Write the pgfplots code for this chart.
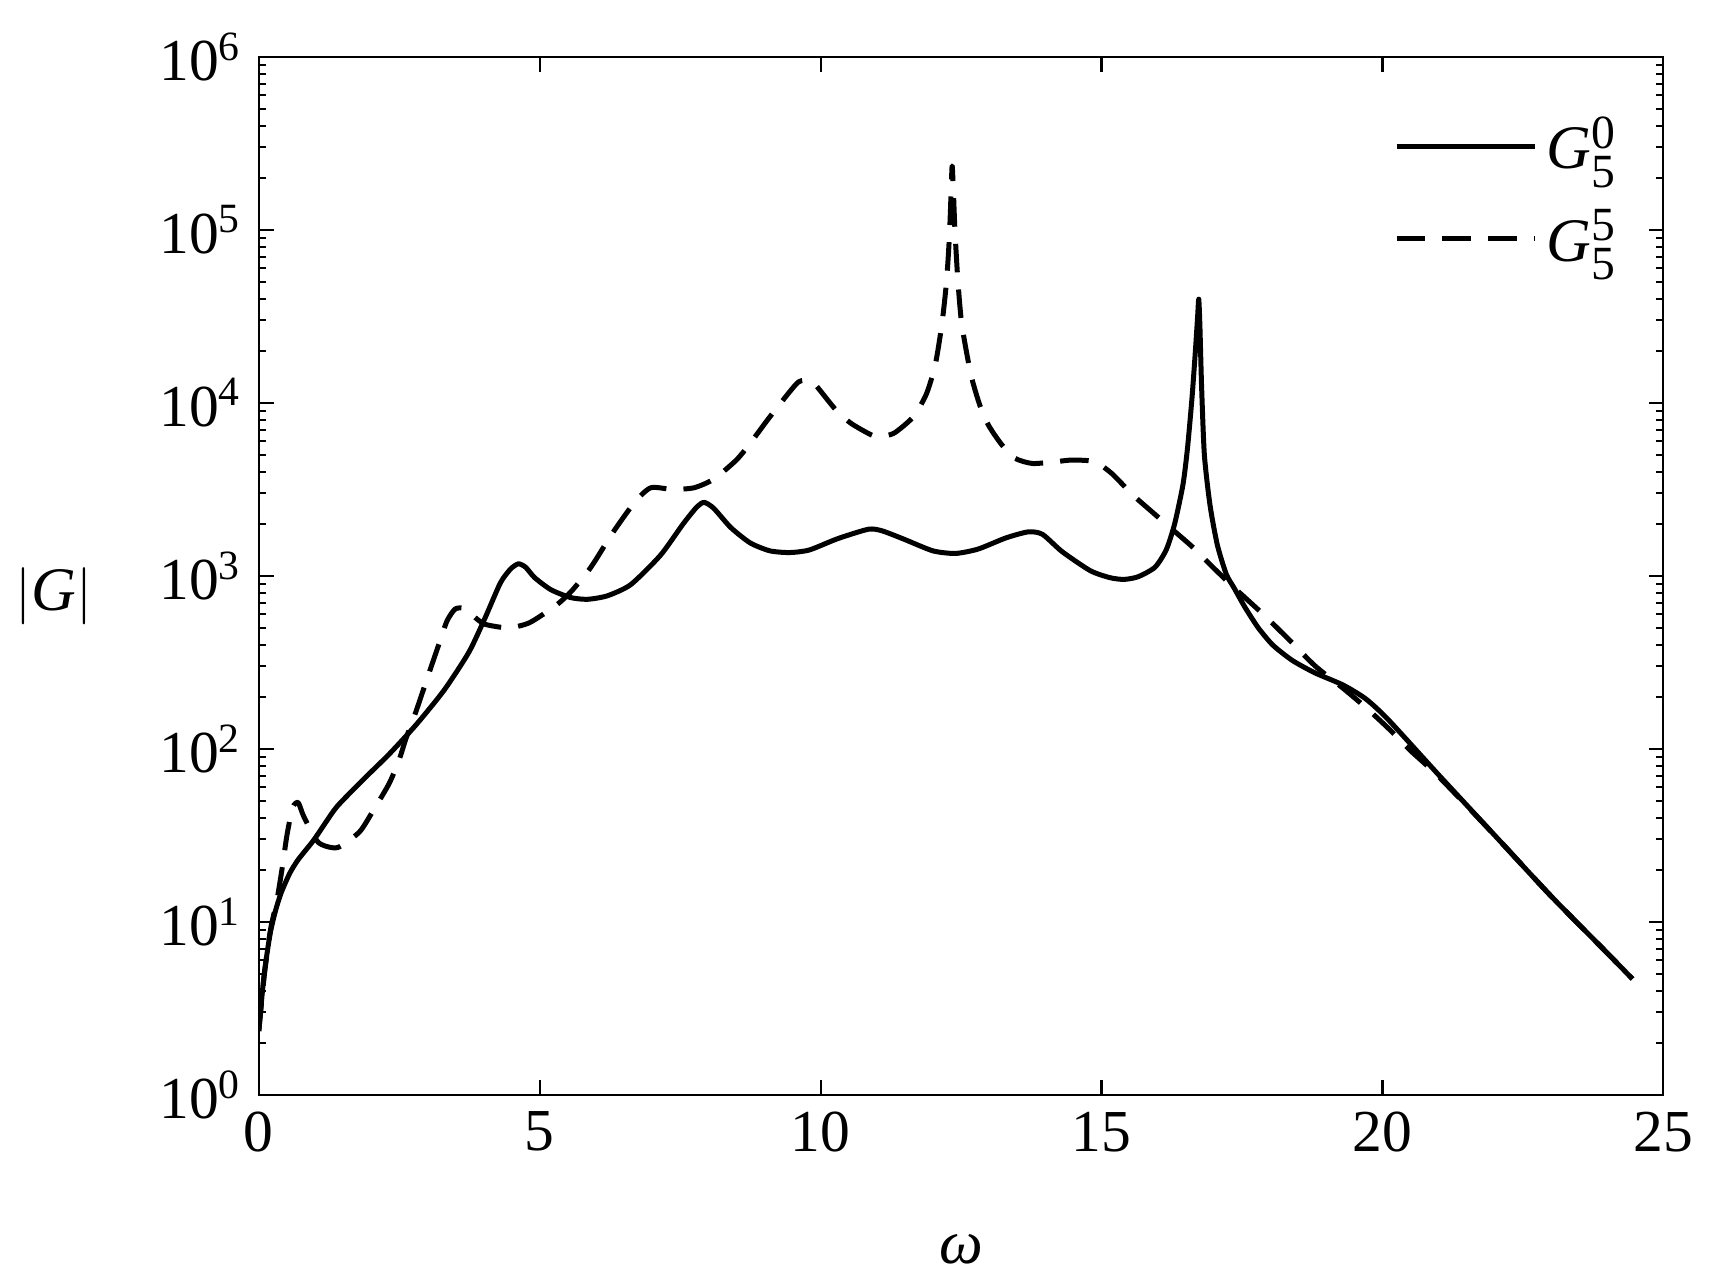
\documentclass[border=0pt]{standalone}
\usepackage{fontspec}
\setmainfont{Liberation Serif}
\usepackage{pgfplots}
\pgfplotsset{compat=1.18}
\newcommand{\Gs}[2]{\fontsize{13}{15}\selectfont\textit{G}$^{\mbox{\fontsize{10}{10}\selectfont #1}}_{\mbox{\fontsize{10}{10}\selectfont #2}}$}

\begin{document}
\begin{tikzpicture}
\begin{axis}[
  scale only axis, width=295pt, height=218pt,
  ymode=log,
  xmin=0, xmax=25, ymin=1, ymax=1e6,
  xtick={0,5,10,15,20,25},
  xticklabels={0,5,10,15,20,25},
  ytick={1,10,100,1000,10000,100000,1000000},
  yticklabels={10\textsuperscript{0},10\textsuperscript{1},10\textsuperscript{2},10\textsuperscript{3},10\textsuperscript{4},10\textsuperscript{5},10\textsuperscript{6}},
  tick align=inside,
  major tick length=3.1pt, minor tick length=1.5pt,
  tick style={black, line width=0.45pt},
  axis line style={line width=0.45pt},
  tick label style={font=\fontsize{12.5}{14}\selectfont},
  xlabel={\textit{ω}},
  ylabel={$\left|\mbox{\textit{G}}\right|$},
  label style={font=\fontsize{13}{15}\selectfont},
  xlabel style={at={(axis description cs:0.5,0)}, anchor=center, yshift=-32.5pt},
  ylabel style={at={(axis description cs:0,0.48)}, rotate=-90, anchor=center, xshift=-43pt},
  legend style={at={(0.985,0.962)}, anchor=north east, draw=none, fill=none,
    row sep=3pt, legend cell align=left},
  legend image code/.code={\draw[#1] (0pt,0pt) -- (29pt,0pt);},
]
% G_5^0
\addplot[black, line width=1.05pt, line join=round, smooth, tension=0.4] coordinates {
 (0,2.34) (0.05,3.55) (0.1,5.13) (0.2,8.51) (0.3,11.7) (0.4,14.8) (0.55,19.1)
 (0.7,22.9) (0.97,29.5) (1.2,38.0) (1.4,46.8) (1.85,66.1) (2.32,93.3) (2.8,138)
 (3.3,219) (3.74,363) (4.03,575) (4.3,912) (4.48,1096) (4.62,1175) (4.75,1122)
 (4.91,977) (5.2,832) (5.55,750) (5.85,733) (6.2,767) (6.62,891) (7.15,1318)
 (7.55,1995) (7.8,2512) (7.93,2661) (8.1,2455) (8.4,1905) (8.75,1549) (9.1,1396)
 (9.45,1365) (9.8,1413) (10.3,1641) (10.85,1862) (11.1,1820) (11.5,1622) (12.0,1396)
 (12.4,1349) (12.8,1429) (13.3,1660) (13.7,1799) (13.95,1738) (14.3,1380) (14.8,1072)
 (15.15,977) (15.4,955) (15.65,989) (15.95,1122) (16.15,1413) (16.3,1995) (16.45,3388)
 (16.53,5495) (16.61,10715) (16.67,19953) (16.71,31623) (16.73,39811) (16.75,28184)
 (16.78,12589) (16.83,5012) (16.93,2570) (17.06,1514) (17.22,1023) (17.36,851)
 (17.55,661) (17.79,501) (18.05,398) (18.4,324) (18.8,275) (19.3,234) (19.7,195)
 (20.1,148) (21.0,70.8) (22.0,31.6) (23.0,14.1) (24.0,6.61) (24.45,4.68)
};
% G_5^5
\addplot[black, line width=1.05pt, line join=round, smooth, tension=0.4, dash pattern=on 6pt off 3.6pt] coordinates {
 (0,2.34) (0.1,5.0) (0.21,9.1) (0.32,13.2) (0.42,20.9) (0.5,31.6) (0.6,45.7)
 (0.7,49) (0.8,40.7) (1.06,28.8) (1.4,26.9) (1.79,33.1) (2.03,43.7) (2.32,63.1)
 (2.5,87.1) (2.62,115) (2.79,162) (3.03,275) (3.21,407) (3.35,550) (3.5,646)
 (3.68,646) (3.85,575) (4.03,525) (4.44,501) (4.82,537) (5.29,676) (5.56,813)
 (5.91,1122) (6.3,1778) (6.7,2692) (6.98,3236) (7.37,3162) (7.75,3236) (8.1,3631)
 (8.5,4677) (8.73,5754) (9.05,7943) (9.29,10000) (9.6,13183) (9.8,13490) (9.92,12589)
 (10.27,9120) (10.55,7586) (10.94,6457) (11.15,6457) (11.33,6761) (11.65,8318)
 (11.88,11220) (12.04,16596) (12.16,28840) (12.24,50119) (12.29,89125) (12.32,158489)
 (12.34,234423) (12.36,177828) (12.39,100000) (12.44,52481) (12.51,28840) (12.67,14791)
 (12.83,9772) (12.99,7413) (13.22,5754) (13.46,4786) (13.77,4467) (14.17,4571)
 (14.48,4677) (14.88,4571) (15.19,3890) (15.55,2951) (15.9,2344) (16.22,1905)
 (16.61,1479) (16.92,1175) (17.3,891) (17.87,603) (18.34,427) (18.8,302) (19.3,224)
 (19.7,174) (20.1,132) (20.5,97.7) (21.0,69.2) (22.0,31.6) (23.0,14.1) (24.0,6.61)
 (24.45,4.68)
};
\legend{\Gs{0}{5},\Gs{5}{5}}
\end{axis}
\path (current bounding box.north) ++(0,3.5pt);
\path (current bounding box.south) ++(0,-1pt);
\end{tikzpicture}
\end{document}
